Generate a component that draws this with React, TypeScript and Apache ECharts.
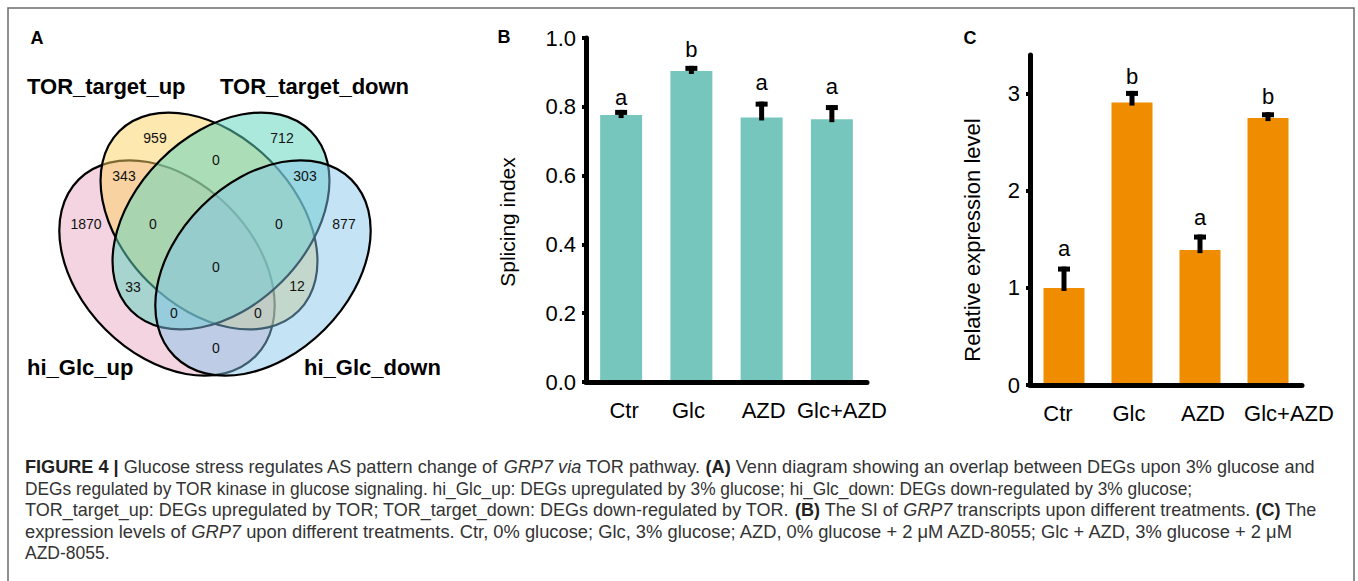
import React, { useEffect, useRef } from 'react';
import * as echarts from 'echarts';

// ---------------- DATA ----------------
const categories = ['Ctr', 'Glc', 'AZD', 'Glc+AZD'];

// Panel B: splicing index
const splicingMean = [0.776, 0.904, 0.769, 0.764];
const splicingErr = [0.015, 0.015, 0.046, 0.041];
const splicingLetters = ['a', 'b', 'a', 'a'];
const splicingLetterAt = [0.826, 0.968, 0.872, 0.858];
const splicingTicks = [0, 0.2, 0.4, 0.6, 0.8, 1.0];

// Panel C: relative expression level
const exprMean = [1.0, 2.91, 1.39, 2.75];
const exprErr = [0.22, 0.12, 0.16, 0.06];
const exprLetters = ['a', 'b', 'a', 'b'];
const exprLetterAt = [1.41, 3.175, 1.73, 2.97];
const exprTicks = [0, 1, 2, 3];

// Panel A: Venn
const vennSetNames = ['hi_Glc_up', 'TOR_target_up', 'TOR_target_down', 'hi_Glc_down'];
const vennRegionCounts = [959, 712, 343, 0, 303, 1870, 0, 0, 877, 0, 33, 12, 0, 0, 0];

// Caption
const captionLines = [
  '{b|FIGURE 4 |} Glucose stress regulates AS pattern change of {i|GRP7} {i|via} TOR pathway. {b|(A)} Venn diagram showing an overlap between DEGs upon 3% glucose and',
  'DEGs regulated by TOR kinase in glucose signaling. hi_Glc_up: DEGs upregulated by 3% glucose; hi_Glc_down: DEGs down-regulated by 3% glucose;',
  'TOR_target_up: DEGs upregulated by TOR; TOR_target_down: DEGs down-regulated by TOR. {b|(B)} The SI of {i|GRP7} transcripts upon different treatments. {b|(C)} The',
  'expression levels of {i|GRP7} upon different treatments. Ctr, 0% glucose; Glc, 3% glucose; AZD, 0% glucose + 2 \u03bcM AZD-8055; Glc + AZD, 3% glucose + 2 \u03bcM',
  'AZD-8055.',
];

// ---------------- LAYOUT ----------------
const FONT = '"Liberation Sans", Arial, Helvetica, sans-serif';
const CAP_FONT = '"Liberation Sans", Arial, Helvetica, sans-serif';
const CAP_SIZE = 17.5;
const captionScaleX = [1.036, 0.99, 1.03, 1.048, 1.0];
const labelShiftB = [3, -3, 2, 10];
const labelShiftC = [-6, -3, 3, 21];

const ellipseLayout = [
  { cx: 167, cy: 268, rx: 125, ry: 87, rot: -Math.PI / 4, fill: 'rgba(233,169,193,0.5)' },
  { cx: 209, cy: 221, rx: 127, ry: 86, rot: -Math.PI / 4, fill: 'rgba(251,209,97,0.5)' },
  { cx: 221, cy: 221, rx: 127, ry: 86, rot: Math.PI / 4, fill: 'rgba(96,212,190,0.52)' },
  { cx: 263, cy: 268, rx: 125, ry: 87, rot: Math.PI / 4, fill: 'rgba(131,197,235,0.48)' },
];
const regionPos = [
  [155, 138], [282, 138], [124, 176], [216, 160], [305, 176],
  [86, 224], [153, 224], [279, 224], [344, 224], [216, 267],
  [133, 287], [297, 286], [174, 313], [258, 313], [216, 348],
];
const setLabelPos = [
  [27, 367], [27, 86], [220, 86], [304, 367],
];

function errRender(letters: string[]) {
  return (params: any, api: any) => {
    const i = api.value(0);
    const m = api.value(1);
    const e = api.value(2);
    const l = api.value(3);
    const base = api.coord([i, m]);
    const top = api.coord([i, m + e]);
    const lp = api.coord([i, l]);
    return {
      type: 'group',
      children: [
        { type: 'rect', shape: { x: base[0] - 2.5, y: top[1], width: 5, height: base[1] - top[1] + 3 }, style: { fill: '#000' } },
        { type: 'rect', shape: { x: top[0] - 6, y: top[1], width: 12, height: 5 }, style: { fill: '#000' } },
        {
          type: 'text', x: lp[0], y: lp[1],
          style: { text: letters[params.dataIndex], fontSize: 22, fontFamily: FONT, fill: '#000', align: 'center', verticalAlign: 'middle' },
        },
      ],
    };
  };
}

function shiftedLabels(shifts: number[]) {
  const rich: any = {};
  shifts.forEach((d, i) => {
    rich['s' + i] = {
      fontSize: 22, fontFamily: FONT, color: '#000',
      padding: d >= 0 ? [0, 0, 0, 2 * d] : [0, -2 * d, 0, 0],
    };
  });
  return {
    interval: 0, fontSize: 22, fontFamily: FONT, color: '#000', margin: 17,
    formatter: (v: string, idx: number) => `{s${idx}|${v}}`,
    rich,
  };
}

function buildOption() {
  const graphic: any[] = [];
  // frame
  graphic.push({ type: 'rect', shape: { x: 8, y: 8, width: 1346, height: 620 }, style: { fill: 'none', stroke: '#6b6b6b', lineWidth: 1.5 } });
  // panel letters
  [['A', 37, 38], ['B', 504, 37], ['C', 970, 38]].forEach(([t, x, y]) => {
    graphic.push({ type: 'text', x, y, style: { text: t, fontSize: 18, fontWeight: 'bold', fontFamily: FONT, fill: '#000', align: 'center', verticalAlign: 'middle' } });
  });
  // venn ellipses
  ellipseLayout.forEach((e) => {
    graphic.push({
      type: 'ellipse', x: e.cx, y: e.cy, rotation: e.rot,
      shape: { cx: 0, cy: 0, rx: e.rx, ry: e.ry },
      style: { fill: e.fill, stroke: '#000', lineWidth: 2.2 },
    });
  });
  vennRegionCounts.forEach((c, i) => {
    graphic.push({ type: 'text', x: regionPos[i][0], y: regionPos[i][1], style: { text: String(c), fontSize: 14, fontFamily: FONT, fill: '#111', align: 'center', verticalAlign: 'middle' } });
  });
  vennSetNames.forEach((n, i) => {
    graphic.push({ type: 'text', x: setLabelPos[i][0], y: setLabelPos[i][1], style: { text: n, fontSize: 22, fontWeight: 'bold', fontFamily: FONT, fill: '#000', align: 'left', verticalAlign: 'middle' } });
  });
  // axis names
  graphic.push({ type: 'text', x: 507, y: 222, rotation: Math.PI / 2, style: { text: 'Splicing index', fontSize: 21, fontFamily: FONT, fill: '#000', align: 'center', verticalAlign: 'middle' } });
  graphic.push({ type: 'text', x: 972, y: 240, rotation: Math.PI / 2, style: { text: 'Relative expression level', fontSize: 22, fontFamily: FONT, fill: '#000', align: 'center', verticalAlign: 'middle' } });
  // caption
  const rich = {
    b: { fontWeight: 'bold', fontSize: CAP_SIZE, fontFamily: CAP_FONT, fill: '#222', color: '#222' },
    i: { fontStyle: 'italic', fontSize: CAP_SIZE, fontFamily: CAP_FONT, fill: '#333', color: '#333' },
  };
  captionLines.forEach((line, k) => {
    graphic.push({
      type: 'text', x: 25, y: 467 + k * 21.6, scaleX: captionScaleX[k],
      style: { text: line, rich, fontSize: CAP_SIZE, fontFamily: CAP_FONT, fill: '#333', align: 'left', verticalAlign: 'middle' },
    });
  });

  const xAxisCommon = {
    type: 'category',
    data: categories,
    z: 3,
    axisLine: { lineStyle: { color: '#000', width: 5 } },
    axisTick: { alignWithLabel: true, length: 6, lineStyle: { color: '#000', width: 5 } },
  };
  const yAxisCommon = {
    type: 'value',
    min: 0,
    z: 3,
    splitLine: { show: false },
    axisLine: { show: true, lineStyle: { color: '#000', width: 5 } },
    axisTick: { show: true, length: 4, lineStyle: { color: '#000', width: 4 } },
  };

  return {
    animation: false,
    backgroundColor: '#fff',
    grid: [
      { left: 586, top: 38, width: 281, height: 344 },
      { left: 1030, top: 55, width: 272, height: 330 },
    ],
    xAxis: [
      { ...xAxisCommon, gridIndex: 0, axisLabel: shiftedLabels(labelShiftB) },
      { ...xAxisCommon, gridIndex: 1, axisLabel: shiftedLabels(labelShiftC) },
    ],
    yAxis: [
      {
        ...yAxisCommon, gridIndex: 0, max: 1.0, interval: 0.2,
        axisTick: { ...yAxisCommon.axisTick, customValues: splicingTicks },
        axisLabel: { customValues: splicingTicks, fontSize: 22, fontFamily: FONT, color: '#000', margin: 10, formatter: (v: number) => v.toFixed(1) },
      },
      {
        ...yAxisCommon, gridIndex: 1, max: 3.4, interval: 1,
        axisTick: { ...yAxisCommon.axisTick, customValues: exprTicks },
        axisLabel: { customValues: exprTicks, fontSize: 22, fontFamily: FONT, color: '#000', margin: 10, formatter: (v: number) => String(Math.round(v)) },
      },
    ],
    series: [
      { type: 'bar', xAxisIndex: 0, yAxisIndex: 0, data: splicingMean, barWidth: 42, itemStyle: { color: '#77C6BE' } },
      { type: 'bar', xAxisIndex: 1, yAxisIndex: 1, data: exprMean, barWidth: 41, itemStyle: { color: '#F08C00' } },
      {
        type: 'custom', xAxisIndex: 0, yAxisIndex: 0, z: 4,
        data: splicingMean.map((m, i) => [i, m, splicingErr[i], splicingLetterAt[i]]),
        encode: { x: 0, y: 1 },
        renderItem: errRender(splicingLetters),
      },
      {
        type: 'custom', xAxisIndex: 1, yAxisIndex: 1, z: 4,
        data: exprMean.map((m, i) => [i, m, exprErr[i], exprLetterAt[i]]),
        encode: { x: 0, y: 1 },
        renderItem: errRender(exprLetters),
      },
    ],
    graphic,
  };
}

export default function App() {
  const ref = useRef<HTMLDivElement>(null);
  useEffect(() => {
    document.body.style.margin = '0';
    const chart = echarts.init(ref.current!, null, { renderer: 'svg' });
    chart.setOption(buildOption() as any);
    return () => chart.dispose();
  }, []);
  return <div ref={ref} style={{ width: 1358, height: 581 }} />;
}
